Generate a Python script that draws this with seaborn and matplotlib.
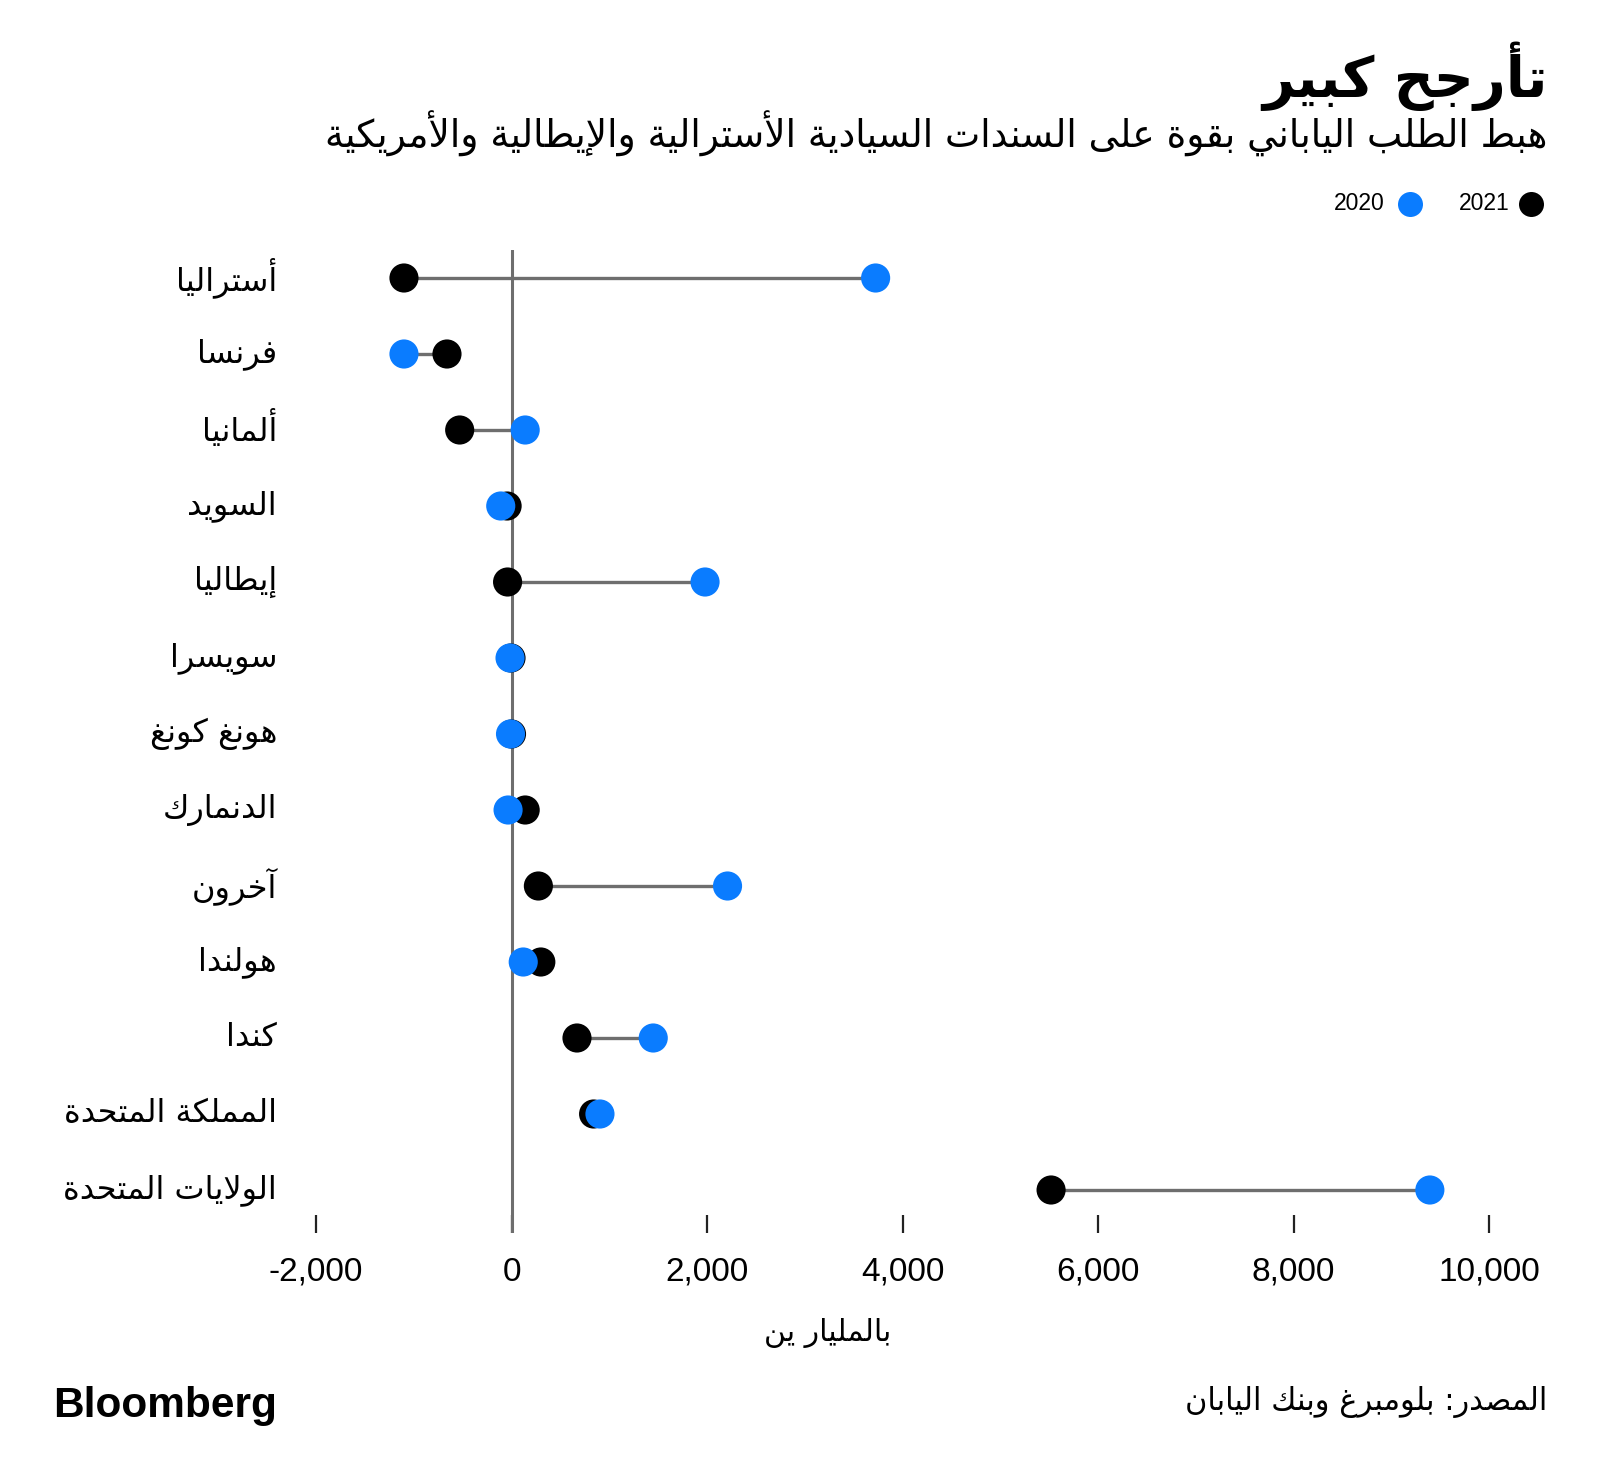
import numpy as np
import pandas as pd
import matplotlib
matplotlib.use('Agg')
import matplotlib.pyplot as plt
from matplotlib.lines import Line2D
from matplotlib.transforms import ScaledTranslation
import seaborn as sns

# --- data ---
countries = ['أستراليا', 'فرنسا', 'ألمانيا', 'السويد', 'إيطاليا', 'سويسرا', 'هونغ كونغ',
             'الدنمارك', 'آخرون', 'هولندا', 'كندا', 'المملكة المتحدة', 'الولايات المتحدة']
val_2021 = [-1100, -660, -530, -45, -40, -5, 0, 140, 275, 300, 670, 840, 5520]
val_2020 = [3725, -1100, 140, -110, 1980, -15, -10, -35, 2210, 120, 1450, 905, 9395]
xticks = [-2000, 0, 2000, 4000, 6000, 8000, 10000]
xtick_labels = ['-2,000', '0', '2,000', '4,000', '6,000', '8,000', '10,000']

title = 'تأرجح كبير'
subtitle = 'هبط الطلب الياباني بقوة على السندات السيادية الأسترالية والإيطالية والأمريكية'
xlabel = 'بالمليار ين'
source = 'المصدر: بلومبرغ وبنك اليابان'
years = ['2020', '2021']

BLUE = '#0a7cff'
BLACK = '#000000'
GREY = '#6e6e6e'

# matplotlib does no arabic shaping, so map letters to presentation forms
# and reverse them into visual order
_F = {'ء': (0xFE80, 1), 'آ': (0xFE81, 2), 'أ': (0xFE83, 2), 'ؤ': (0xFE85, 2), 'إ': (0xFE87, 2),
      'ئ': (0xFE89, 4), 'ا': (0xFE8D, 2), 'ب': (0xFE8F, 4), 'ة': (0xFE93, 2), 'ت': (0xFE95, 4),
      'ث': (0xFE99, 4), 'ج': (0xFE9D, 4), 'ح': (0xFEA1, 4), 'خ': (0xFEA5, 4), 'د': (0xFEA9, 2),
      'ذ': (0xFEAB, 2), 'ر': (0xFEAD, 2), 'ز': (0xFEAF, 2), 'س': (0xFEB1, 4), 'ش': (0xFEB5, 4),
      'ص': (0xFEB9, 4), 'ض': (0xFEBD, 4), 'ط': (0xFEC1, 4), 'ظ': (0xFEC5, 4), 'ع': (0xFEC9, 4),
      'غ': (0xFECD, 4), 'ف': (0xFED1, 4), 'ق': (0xFED5, 4), 'ك': (0xFED9, 4), 'ل': (0xFEDD, 4),
      'م': (0xFEE1, 4), 'ن': (0xFEE5, 4), 'ه': (0xFEE9, 4), 'و': (0xFEED, 2), 'ى': (0xFEEF, 2),
      'ي': (0xFEF1, 4)}
_LA = {'آ': 0xFEF5, 'أ': 0xFEF7, 'إ': 0xFEF9, 'ا': 0xFEFB}


def ar(s):
    out = []
    i = 0
    while i < len(s):
        c = s[i]
        if c not in _F:
            out.append(c)
            i += 1
            continue
        prev = s[i - 1] if i > 0 else ''
        link_prev = prev in _F and _F[prev][1] == 4
        if c == 'ل' and i + 1 < len(s) and s[i + 1] in _LA:
            out.append(chr(_LA[s[i + 1]] + (1 if link_prev else 0)))
            i += 2
            continue
        base, k = _F[c]
        nxt = s[i + 1] if i + 1 < len(s) else ''
        link_next = k == 4 and nxt in _F
        if k == 1:
            off = 0
        elif link_prev and link_next:
            off = 3
        elif link_next:
            off = 2
        elif link_prev:
            off = 1
        else:
            off = 0
        out.append(chr(base + off))
        i += 1
    return ''.join(reversed(out))


sns.set_theme(style='white')
plt.rcParams['font.family'] = ['Liberation Sans', 'DejaVu Sans']
plt.rcParams['text.color'] = 'black'
plt.rcParams['xtick.color'] = 'black'
plt.rcParams['ytick.color'] = 'black'
AR = ['DejaVu Sans']

W, H = 1600, 1484
fig = plt.figure(figsize=(W / 100, H / 100), dpi=100)


def fx(px):
    return px / W


def fy(py):
    return 1 - py / H


ax = fig.add_axes([fx(316), fy(1233), fx(1489) - fx(316), (1233 - 250) / H])

n = len(countries)
pos = np.arange(n)
df = pd.DataFrame({
    'pos': np.concatenate([pos, pos]),
    'value': val_2021 + val_2020,
    'year': ['2021'] * n + ['2020'] * n,
})

ax.axvline(0, color=GREY, lw=2.2, zorder=1)
ax.hlines(pos, val_2021, val_2020, color=GREY, lw=2.4, zorder=2)
sns.scatterplot(data=df, x='value', y='pos', hue='year',
                palette={'2021': BLACK, '2020': BLUE}, s=440, linewidth=0,
                legend=False, ax=ax, zorder=3, clip_on=False)

ax.set_xlim(-2000, 10000)
ax.set_ylim(12 + 43 / 76, -28 / 76)
ax.set_xticks(xticks)
ax.set_xticklabels(xtick_labels, fontsize=24)
ax.set_yticks(pos)
ax.set_yticklabels([ar(c) for c in countries], family=AR, fontsize=23)
ax.tick_params(axis='x', direction='in', length=13, width=1.6, color='#222222',
               pad=17, bottom=True)
ax.tick_params(axis='y', length=0, pad=28)
# nudge the country names up a little so they sit level with the dots
for lbl in ax.get_yticklabels():
    lbl.set_transform(lbl.get_transform() + ScaledTranslation(0, 0.04, fig.dpi_scale_trans))
ax.set_xlabel('')
ax.set_ylabel('')
for sp in ax.spines.values():
    sp.set_visible(False)
ax.grid(False)

# titles
fig.text(fx(1548), fy(97), ar(title), ha='right', va='baseline', family=['DejaVu Sans'],
         fontweight='bold', fontsize=40)
fig.text(fx(1547), fy(148), ar(subtitle), ha='right', va='baseline', family=AR,
         fontsize=27)

# legend (marker on the right of its label)
leg = [(years[1], BLACK, 1531, 1510), (years[0], BLUE, 1410, 1385)]
for lab, col, mx, tx in leg:
    fig.add_artist(Line2D([fx(mx)], [fy(204)], marker='o', ms=18, color=col, mew=0,
                          transform=fig.transFigure))
    fig.text(fx(tx), fy(204), lab, ha='right', va='center', fontsize=16.5)

fig.text(fx(828), fy(1333), ar(xlabel), ha='center', va='center', family=AR, fontsize=21.5)

fig.text(fx(1547), fy(1410), ar(source), ha='right', va='baseline', family=AR, fontsize=22)
fig.text(fx(53), fy(1417), 'Bloomberg', ha='left', va='baseline',
         family=['Liberation Sans'], fontweight='bold', fontsize=30.5)

fig.savefig('out.png', dpi=100)
